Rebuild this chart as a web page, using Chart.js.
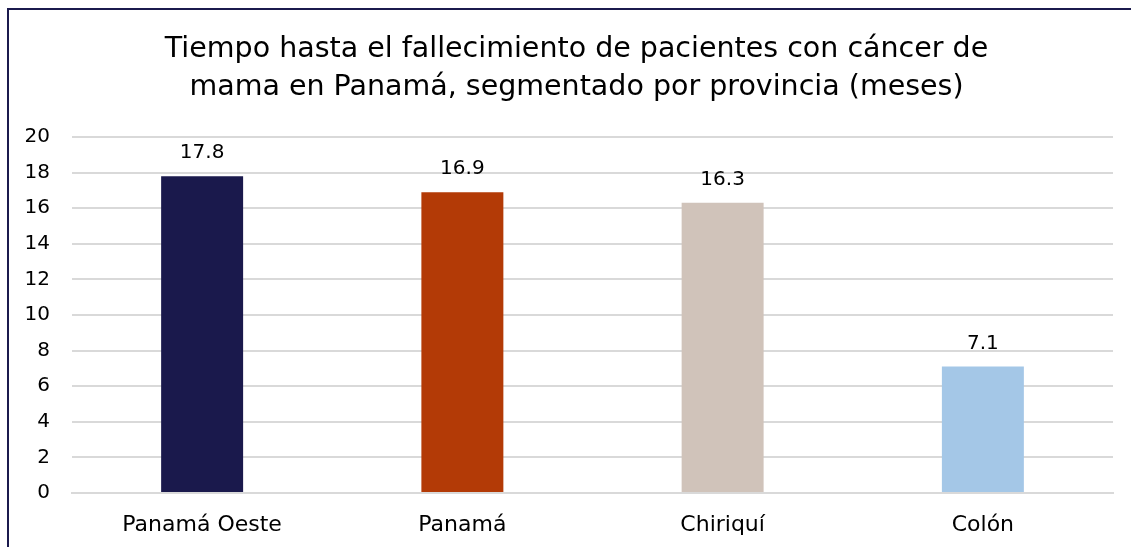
<!DOCTYPE html>
<html>
<head>
<meta charset="utf-8">
<script src="https://cdn.jsdelivr.net/npm/chart.js@4.4.1/dist/chart.umd.min.js"></script>
<style>
  html, body { margin: 0; padding: 0; background: #fff; }
  .frame {
    position: absolute; left: 7px; top: 8px; right: 0; bottom: 0;
    border-left: 2px solid #1b1a4d; border-top: 2px solid #1b1a4d;
  }
  .cell { position: absolute; left: 0; top: 0; width: 1131px; height: 547px; }
</style>
</head>
<body>
<div class="frame"></div>
<div class="cell"><canvas id="chart1" width="1131" height="547"></canvas></div>
<script>
const provinces = ['Panamá Oeste', 'Panamá', 'Chiriquí', 'Colón'];
const months = [17.8, 16.9, 16.3, 7.1];
const barColors = ['#1a194c', '#b33a06', '#d0c3ba', '#a4c7e7'];
const titleLines = ['Tiempo hasta el fallecimiento de pacientes con cáncer de', 'mama en Panamá, segmentado por provincia (meses)'];

const FONT = "'DejaVu Sans', sans-serif";

// value labels above each bar
const valueLabels = {
  id: 'valueLabels',
  afterDatasetsDraw(chart) {
    const ctx = chart.ctx;
    const meta = chart.getDatasetMeta(0);
    ctx.save();
    ctx.font = '20px ' + FONT;
    ctx.fillStyle = '#000';
    ctx.textAlign = 'center';
    ctx.textBaseline = 'alphabetic';
    meta.data.forEach((bar, i) => {
      ctx.fillText(months[i].toFixed(1), bar.x, bar.y - 18);
    });
    ctx.restore();
  }
};

// title centred on the whole frame (not only the plot)
const frameTitle = {
  id: 'frameTitle',
  afterDraw(chart) {
    const ctx = chart.ctx;
    ctx.save();
    ctx.font = '28.5px ' + FONT;
    ctx.fillStyle = '#000';
    ctx.textAlign = 'center';
    ctx.textBaseline = 'middle';
    titleLines.forEach((line, i) => {
      ctx.fillText(line, 576.5, 50 + i * 38);
    });
    ctx.restore();
  }
};

const ctx = document.getElementById('chart1').getContext('2d');
new Chart(ctx, {
  type: 'bar',
  data: {
    labels: provinces,
    datasets: [{
      data: months,
      backgroundColor: barColors,
      barPercentage: 0.315,
      categoryPercentage: 1
    }]
  },
  options: {
    responsive: false,
    animation: false,
    layout: { padding: { left: 0, right: 18, top: 137, bottom: 0 } },
    plugins: {
      legend: { display: false },
      tooltip: { enabled: false },
      title: { display: false }
    },
    scales: {
      x: {
        grid: { display: false, drawTicks: false },
        border: { display: true, color: '#d9d9d9', width: 2 },
        ticks: { color: '#000', font: { family: FONT, size: 22 }, padding: 19 },
        afterFit(scale) { scale.height = 54; }
      },
      y: {
        min: 0, max: 20,
        grid: { color: '#d9d9d9', lineWidth: 2, drawTicks: false },
        border: { display: false },
        ticks: { stepSize: 2, color: '#000', font: { family: FONT, size: 20 }, padding: 22 },
        afterFit(scale) { scale.width = 72; }
      }
    }
  },
  plugins: [valueLabels, frameTitle]
});
</script>
</body>
</html>
